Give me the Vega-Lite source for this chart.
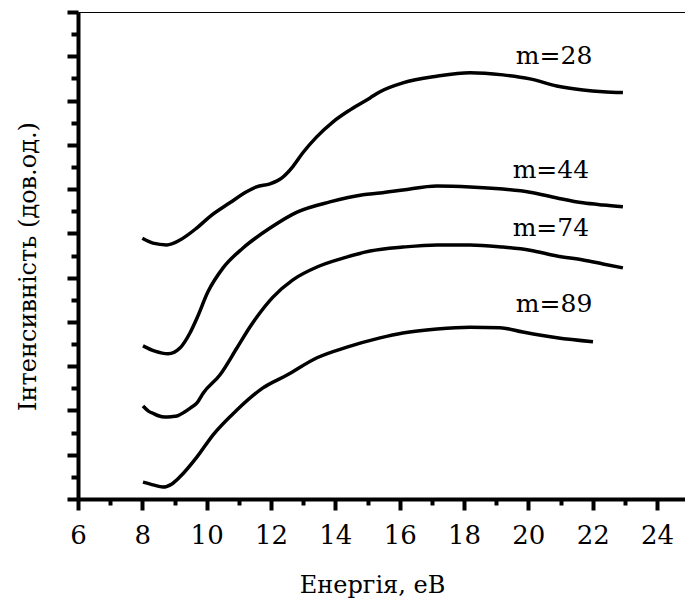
{
  "$schema": "https://vega.github.io/schema/vega-lite/v6.json",
  "width": 607,
  "height": 487,
  "autosize": {"type": "none"},
  "padding": {"left": 78, "top": 12, "right": 0, "bottom": 109},
  "background": "white",
  "config": {
    "view": {"stroke": null}
  },
  "resolve": {"axis": {"x": "independent", "y": "independent"}},
  "layer": [
    {
      "data": {"values": [
        {"m": "28", "E": 8.0, "I": 5.89}, {"m": "28", "E": 8.33, "I": 5.78}, {"m": "28", "E": 8.76, "I": 5.74}, {"m": "28", "E": 9.17, "I": 5.85},
        {"m": "28", "E": 9.69, "I": 6.12}, {"m": "28", "E": 10.1, "I": 6.38}, {"m": "28", "E": 10.72, "I": 6.69}, {"m": "28", "E": 11.24, "I": 6.94},
        {"m": "28", "E": 11.55, "I": 7.05}, {"m": "28", "E": 11.97, "I": 7.12}, {"m": "28", "E": 12.33, "I": 7.25}, {"m": "28", "E": 12.68, "I": 7.51},
        {"m": "28", "E": 12.99, "I": 7.82}, {"m": "28", "E": 13.42, "I": 8.18}, {"m": "28", "E": 13.93, "I": 8.52}, {"m": "28", "E": 14.46, "I": 8.79},
        {"m": "28", "E": 15.08, "I": 9.06}, {"m": "28", "E": 15.39, "I": 9.2}, {"m": "28", "E": 16.1, "I": 9.4}, {"m": "28", "E": 17.15, "I": 9.55},
        {"m": "28", "E": 18.19, "I": 9.63}, {"m": "28", "E": 19.21, "I": 9.58}, {"m": "28", "E": 20.05, "I": 9.49}, {"m": "28", "E": 20.88, "I": 9.33},
        {"m": "28", "E": 21.7, "I": 9.24}, {"m": "28", "E": 22.32, "I": 9.2}, {"m": "28", "E": 22.94, "I": 9.18},

        {"m": "44", "E": 8.02, "I": 3.46}, {"m": "44", "E": 8.39, "I": 3.34}, {"m": "44", "E": 8.8, "I": 3.28}, {"m": "44", "E": 9.17, "I": 3.41},
        {"m": "44", "E": 9.48, "I": 3.75}, {"m": "44", "E": 9.7, "I": 4.09}, {"m": "44", "E": 10.04, "I": 4.68}, {"m": "44", "E": 10.51, "I": 5.22},
        {"m": "44", "E": 11.13, "I": 5.67}, {"m": "44", "E": 11.97, "I": 6.12}, {"m": "44", "E": 12.81, "I": 6.48}, {"m": "44", "E": 13.83, "I": 6.71},
        {"m": "44", "E": 14.86, "I": 6.87}, {"m": "44", "E": 15.39, "I": 6.91}, {"m": "44", "E": 16.1, "I": 6.98}, {"m": "44", "E": 17.16, "I": 7.07},
        {"m": "44", "E": 18.19, "I": 7.05}, {"m": "44", "E": 19.21, "I": 7.0}, {"m": "44", "E": 20.05, "I": 6.93}, {"m": "44", "E": 20.89, "I": 6.8},
        {"m": "44", "E": 21.7, "I": 6.69}, {"m": "44", "E": 22.32, "I": 6.64}, {"m": "44", "E": 22.94, "I": 6.6},

        {"m": "74", "E": 8.02, "I": 2.1}, {"m": "74", "E": 8.2, "I": 1.98}, {"m": "74", "E": 8.35, "I": 1.93},
        {"m": "74", "E": 8.5, "I": 1.88}, {"m": "74", "E": 8.7, "I": 1.85}, {"m": "74", "E": 8.9, "I": 1.86},
        {"m": "74", "E": 9.1, "I": 1.88}, {"m": "74", "E": 9.3, "I": 1.96},
        {"m": "74", "E": 9.5, "I": 2.06}, {"m": "74", "E": 9.7, "I": 2.17}, {"m": "74", "E": 9.89, "I": 2.39}, {"m": "74", "E": 10.41, "I": 2.8},
        {"m": "74", "E": 10.94, "I": 3.41}, {"m": "74", "E": 11.35, "I": 3.89}, {"m": "74", "E": 11.56, "I": 4.11}, {"m": "74", "E": 12.06, "I": 4.56},
        {"m": "74", "E": 12.68, "I": 4.95}, {"m": "74", "E": 13.43, "I": 5.24}, {"m": "74", "E": 14.24, "I": 5.44}, {"m": "74", "E": 15.08, "I": 5.6},
        {"m": "74", "E": 16.1, "I": 5.69}, {"m": "74", "E": 17.16, "I": 5.74}, {"m": "74", "E": 18.19, "I": 5.74}, {"m": "74", "E": 19.21, "I": 5.69},
        {"m": "74", "E": 20.05, "I": 5.62}, {"m": "74", "E": 20.89, "I": 5.49}, {"m": "74", "E": 21.7, "I": 5.4}, {"m": "74", "E": 22.32, "I": 5.31},
        {"m": "74", "E": 22.94, "I": 5.22},

        {"m": "89", "E": 8.02, "I": 0.38}, {"m": "89", "E": 8.33, "I": 0.32}, {"m": "89", "E": 8.64, "I": 0.27}, {"m": "89", "E": 8.92, "I": 0.34},
        {"m": "89", "E": 9.17, "I": 0.5}, {"m": "89", "E": 9.7, "I": 0.95}, {"m": "89", "E": 10.2, "I": 1.45}, {"m": "89", "E": 10.94, "I": 2.01},
        {"m": "89", "E": 11.75, "I": 2.51}, {"m": "89", "E": 12.5, "I": 2.8}, {"m": "89", "E": 13.43, "I": 3.19}, {"m": "89", "E": 14.36, "I": 3.43},
        {"m": "89", "E": 15.39, "I": 3.64}, {"m": "89", "E": 16.1, "I": 3.75}, {"m": "89", "E": 17.16, "I": 3.84}, {"m": "89", "E": 18.19, "I": 3.88},
        {"m": "89", "E": 19.12, "I": 3.87}, {"m": "89", "E": 19.83, "I": 3.77}, {"m": "89", "E": 20.89, "I": 3.64}, {"m": "89", "E": 22.01, "I": 3.55}
      ]},
      "mark": {"type": "line", "color": "black", "strokeWidth": 3.5, "interpolate": "monotone"},
      "encoding": {
        "x": {
          "field": "E", "type": "quantitative",
          "scale": {"domain": [6, 24.87], "nice": false, "zero": false},
          "axis": {
            "orient": "bottom",
            "values": [6, 7, 8, 9, 10, 11, 12, 13, 14, 15, 16, 17, 18, 19, 20, 21, 22, 23, 24],
            "labelExpr": "datum.value % 2 === 0 ? datum.label : ''",
            "labelOverlap": false, "labelFlush": false,
            "tickSize": {"condition": {"test": "datum.value % 2 === 0", "value": 11}, "value": 6},
            "tickWidth": 4, "tickColor": "black",
            "domainWidth": 4, "domainColor": "black",
            "grid": false,
            "labelFontSize": 26, "labelColor": "black", "labelPadding": 12, "labelFont": "DejaVu Serif",
            "title": "Енергія, еВ",
            "titleFontSize": 24, "titleFontWeight": "normal", "titleColor": "black", "titleFont": "DejaVu Serif",
            "titleX": 294, "titleY": 86, "titleBaseline": "middle", "titleAlign": "center"
          }
        },
        "y": {
          "field": "I", "type": "quantitative",
          "scale": {"domain": [0, 11], "nice": false, "zero": false},
          "axis": {
            "orient": "left",
            "values": [0, 0.5, 1, 1.5, 2, 2.5, 3, 3.5, 4, 4.5, 5, 5.5, 6, 6.5, 7, 7.5, 8, 8.5, 9, 9.5, 10, 10.5, 11],
            "labels": false,
            "tickSize": {"condition": {"test": "datum.value % 1 === 0", "value": 11}, "value": 7},
            "tickWidth": 4, "tickColor": "black",
            "domainWidth": 4, "domainColor": "black",
            "grid": false,
            "title": "Інтенсивність (дов.од.)",
            "titleFontSize": 24, "titleFontWeight": "normal", "titleColor": "black", "titleFont": "DejaVu Serif",
            "titleX": -50, "titleY": 254, "titleBaseline": "middle", "titleAlign": "center", "titleAngle": -90
          }
        },
        "detail": {"field": "m"}
      }
    },
    {
      "data": {"values": [
        {"label": "m=28", "E": 20.8, "I": 10.01},
        {"label": "m=44", "E": 20.7, "I": 7.43},
        {"label": "m=74", "E": 20.7, "I": 6.12},
        {"label": "m=89", "E": 20.8, "I": 4.4}
      ]},
      "mark": {"type": "text", "fontSize": 25, "color": "black", "align": "center", "baseline": "middle", "font": "DejaVu Serif"},
      "encoding": {
        "x": {"field": "E", "type": "quantitative",
          "axis": {"orient": "top", "labels": false, "ticks": false, "grid": false, "title": null, "domainWidth": 1.2, "domainColor": "black"}},
        "y": {"field": "I", "type": "quantitative", "axis": null},
        "text": {"field": "label"}
      }
    }
  ]
}
